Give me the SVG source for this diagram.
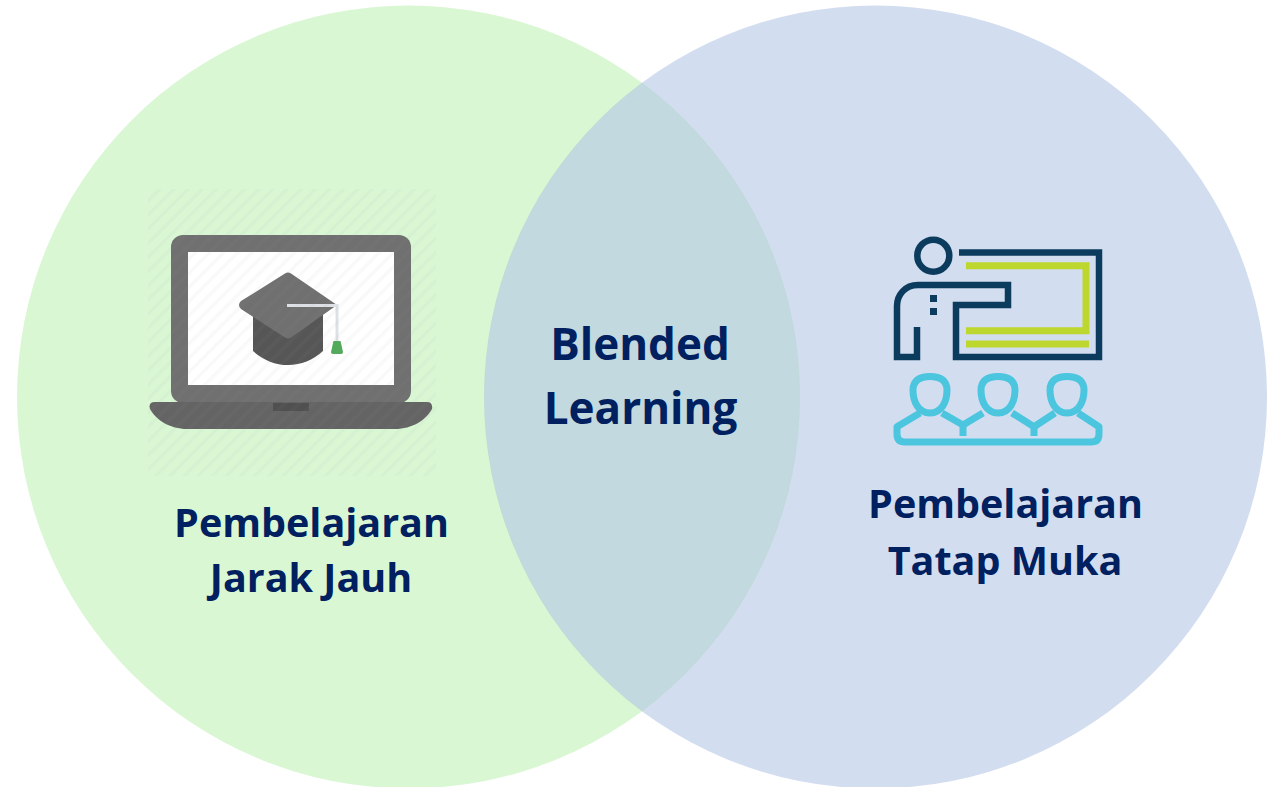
<svg xmlns="http://www.w3.org/2000/svg" width="1276" height="787" viewBox="0 0 1276 787">
<style>
.t{font-family:"Open Sans","Noto Sans","Liberation Sans",sans-serif;font-weight:700;fill:#002060;text-anchor:middle}
.a{font-size:39.5px}.b{font-size:44px}
.teal{fill:none;stroke:#0b3c5d;stroke-width:6.5;stroke-linejoin:miter}
.lime{fill:none;stroke:#bdd72e;stroke-width:7}
.aud{fill:none;stroke:#4cc5df;stroke-width:7;stroke-linejoin:round}
</style>
<defs>
<pattern id="h" width="10" height="10" patternUnits="userSpaceOnUse" patternTransform="rotate(-45)">
<rect y="5" width="10" height="3.500" fill="#9a9a9a" fill-opacity="0.06"/>
</pattern>
</defs>
<rect width="1276" height="787" fill="#ffffff"/>
<g id="circle-left"><circle cx="408.500" cy="397" r="391.500" fill="#daf7d4"/></g>
<g id="circle-right"><circle cx="875.500" cy="397" r="391.500" fill="#a6bbdf" fill-opacity="0.5"/></g>
<g id="overlap"><path d="M642 83.500A391.500 391.500 0 0 1 642 710.500A391.500 391.500 0 0 1 642 83.500Z" fill="#c2dadf"/></g>
<g id="laptop-icon">
<rect x="171" y="235" width="240" height="168" rx="12" fill="#707070"/>
<rect x="188" y="252" width="206" height="133" fill="#ffffff"/>
<path d="M155 402H427Q433 402 432 409C426 420 412 429 395 429H187C170 429 156 420 150 409Q148 402 155 402Z" fill="#646464"/>
<rect x="273" y="403" width="36" height="8" fill="#505050"/>
<path d="M253 312H323V351C313 360 301 365 288 365C275 365 263 360 253 351Z" fill="#565656"/>
<path d="M285 273.500Q288 271.500 291 273.500L337 305L291 337.500Q288 339.500 285 337.500L241 309Q237 305 241 301Z" fill="#707070"/>
<path d="M287 305.500H337V342" fill="none" stroke="#dde1e5" stroke-width="3"/>
<path d="M333.500 341H340.500L343 352Q343 354 341 354H333Q331 354 331 352Z" fill="#52a95a"/>
<rect x="148" y="189" width="288" height="287" fill="url(#h)"/>
</g>
<g id="teacher-icon">
<circle cx="933.300" cy="255.700" r="16" class="teal"/>
<path class="teal" d="M959 252.500H1099V357H956V305H1008V285H918C905 285 897 295 897 306V357H917V327"/>
<rect x="930" y="295" width="7" height="7" fill="#0b3c5d"/>
<rect x="930" y="308" width="7" height="7" fill="#0b3c5d"/>
<path class="lime" d="M966 265.700H1086V330.700H966"/>
<path class="lime" d="M966 344H1089"/>
<path class="aud" d="M930 376.500C941 376.500 947 381 947 390C947 401 942 413 930 413C918 413 913 401 913 390C913 381 919 376.500 930 376.500Z"/>
<path class="aud" d="M998 376.500C1009 376.500 1015 381 1015 390C1015 401 1010 413 998 413C986 413 981 401 981 390C981 381 987 376.500 998 376.500Z"/>
<path class="aud" d="M1067 376.500C1078 376.500 1084 381 1084 390C1084 401 1079 413 1067 413C1055 413 1050 401 1050 390C1050 381 1056 376.500 1067 376.500Z"/>
<path class="aud" d="M920 413L897 426.700V434Q897 442 905 442H1091Q1099 442 1099 434V426.700L1078 413M942 413L963 425L983 413M1012 413L1034 426.700L1055 413"/>
<path class="aud" d="M963 425V436M1034 426.700V436" stroke-linejoin="miter"/>
</g>
<g id="label-left"><text class="t a" x="311.500" y="537">Pembelajaran</text><text class="t a" x="311" y="592">Jarak Jauh</text></g>
<g id="label-right"><text class="t a" x="1005.500" y="518">Pembelajaran</text><text class="t a" x="1005" y="575">Tatap Muka</text></g>
<g id="label-center"><text class="t b" x="640" y="360">Blended</text><text class="t b" x="640.500" y="424">Learning</text></g>
</svg>
